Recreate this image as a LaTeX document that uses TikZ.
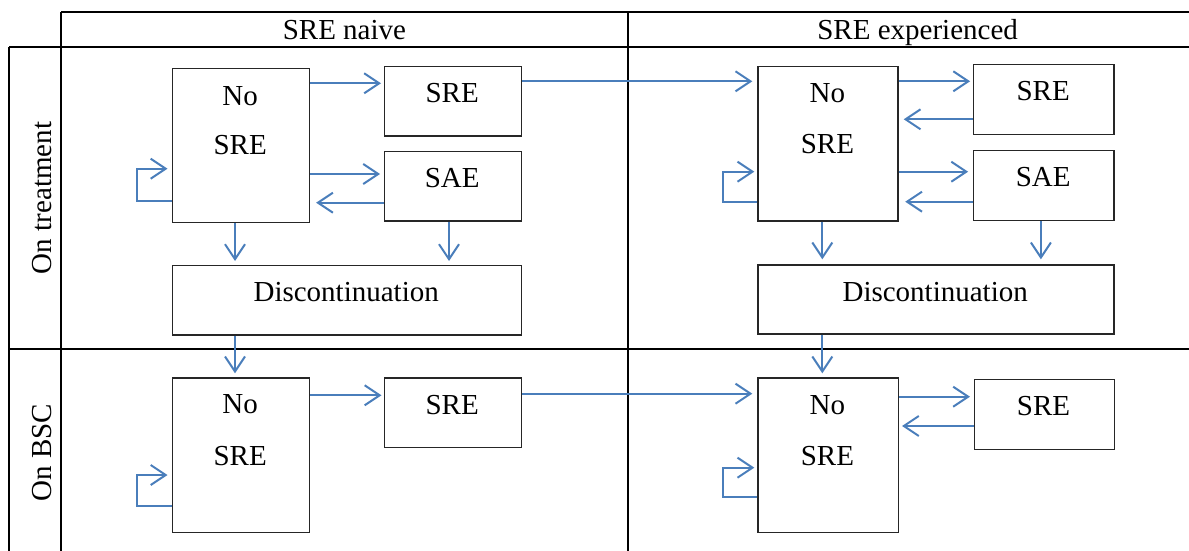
\documentclass[tikz,border=0pt]{standalone}
\usepackage{fontspec}
\setmainfont{Liberation Serif}
\usetikzlibrary{arrows.meta}
\definecolor{arrblue}{RGB}{74,126,187}
\begin{document}
\begin{tikzpicture}[x=1pt,y=-1pt,
 box/.style={draw=black!85, line width=1.3pt, inner sep=0pt, anchor=north west},
 txt/.style={anchor=base, inner sep=0pt, font=\fontsize{29}{34}\selectfont},
 gridline/.style={line width=2pt, black},
 arr/.style={draw=arrblue, line width=2pt, -{Straight Barb[length=15pt,width=20pt]}},
 ]
\useasboundingbox (0,0) rectangle (1189,551);
% table
\draw[gridline] (61,12.3) -- (1189,12.3);
\draw[gridline] (9,46.7) -- (1189,46.7);
\draw[gridline] (9,349) -- (1189,349);
\draw[gridline] (9,46.7) -- (9,551);
\draw[gridline] (61,12.3) -- (61,551);
\draw[gridline] (628,12.3) -- (628,551);
% headers
\node[txt] (h1) at (344.4,40) {SRE naive};
\node[txt] (h2) at (917.6,40) {SRE experienced};
\node[txt, rotate=90] (r1) at (51.7,198) {On treatment};
\node[txt, rotate=90] (r2) at (51.7,452.5) {On BSC};
% boxes naive top
\node[box, minimum width=137.3pt, minimum height=154pt] (nA) at (171.5,67.7) {};
\node[box, minimum width=137.4pt, minimum height=69.6pt] (sA) at (383.5,65.7) {};
\node[box, minimum width=137.4pt, minimum height=69.6pt] (eA) at (383.5,150.7) {};
\node[box, minimum width=349.4pt, minimum height=69.3pt] (dA) at (171.5,265) {};
% boxes experienced top
\node[box, minimum width=140.1pt, minimum height=154.6pt] (nB) at (757.3,65.7) {};
\node[box, minimum width=140.1pt, minimum height=70pt] (sB) at (973.1,63.7) {};
\node[box, minimum width=140.1pt, minimum height=70pt] (eB) at (973.1,149.7) {};
\node[box, minimum width=355.9pt, minimum height=69pt] (dB) at (757.3,264.3) {};
% boxes bottom
\node[box, minimum width=137.3pt, minimum height=154.4pt] (nC) at (171.5,377.3) {};
\node[box, minimum width=137.4pt, minimum height=69.4pt] (sC) at (383.5,377.3) {};
\node[box, minimum width=140.4pt, minimum height=154.4pt] (nD) at (757.3,377.3) {};
\node[box, minimum width=140.1pt, minimum height=69.7pt] (sD) at (973.5,379) {};
% texts
\node[txt] (tA1) at (240.2,105) {No};
\node[txt] (tA2) at (240.2,154.3) {SRE};
\node[txt] (tsA) at (452.2,102.3) {SRE};
\node[txt] (teA) at (452.2,187.7) {SAE};
\node[txt] (tdA) at (346.2,301.7) {Discontinuation};
\node[txt] (tB1) at (827.4,102.3) {No};
\node[txt] (tB2) at (827.4,153.3) {SRE};
\node[txt] (tsB) at (1043.2,100.7) {SRE};
\node[txt] (teB) at (1043.2,186.7) {SAE};
\node[txt] (tdB) at (935.2,301) {Discontinuation};
\node[txt] (tC1) at (240.2,413.3) {No};
\node[txt] (tC2) at (240.2,465.7) {SRE};
\node[txt] (tsC) at (452.2,414) {SRE};
\node[txt] (tD1) at (827.4,414) {No};
\node[txt] (tD2) at (827.4,465.7) {SRE};
\node[txt] (tsD) at (1043.5,415.7) {SRE};
% arrows naive top
\draw[arr, shorten >=2.5pt] (nA.east |- 0,83.3) -- (sA.west |- 0,83.3);
\draw[arr, shorten >=3.5pt] (nA.east |- 0,174) -- (eA.west |- 0,174);
\draw[arr, shorten >=6pt] (eA.west |- 0,202.7) -- (nA.east |- 0,202.7);
\draw[arr, shorten >=4pt] (nA.west |- 0,201.3) -- ++(-34.5,0) |- (nA.west |- 0,168.7);
\draw[arr, shorten >=4pt] (nA.south -| 235,0) -- (dA.north -| 235,0);
\draw[arr, shorten >=4pt] (eA.south -| 449,0) -- (dA.north -| 449,0);
\draw[arr, shorten >=5pt] (sA.east |- 0,81.3) -- (nB.west |- 0,81.3);
\draw[arr, shorten >=4pt] (dA.south -| 235,0) -- (nC.north -| 235,0);
% arrows experienced top
\draw[arr, shorten >=3pt] (nB.east |- 0,81.3) -- (sB.west |- 0,81.3);
\draw[arr, shorten >=5pt] (sB.west |- 0,119.3) -- (nB.east |- 0,119.3);
\draw[arr, shorten >=5pt] (nB.east |- 0,171.7) -- (eB.west |- 0,171.7);
\draw[arr, shorten >=6.5pt] (eB.west |- 0,201.7) -- (nB.east |- 0,201.7);
\draw[arr, shorten >=3pt] (nB.west |- 0,201.7) -- ++(-34.8,0) |- (nB.west |- 0,171.7);
\draw[arr, shorten >=5pt] (nB.south -| 822.3,0) -- (dB.north -| 822.3,0);
\draw[arr, shorten >=5pt] (eB.south -| 1040.9,0) -- (dB.north -| 1040.9,0);
\draw[arr, shorten >=4pt] (dB.south -| 822.3,0) -- (nD.north -| 822.3,0);
% arrows bottom
\draw[arr, shorten >=2pt] (nC.east |- 0,395.3) -- (sC.west |- 0,395.3);
\draw[arr, shorten >=4pt] (nC.west |- 0,505.7) -- ++(-34.5,0) |- (nC.west |- 0,475);
\draw[arr, shorten >=5pt] (sC.east |- 0,393.7) -- (nD.west |- 0,393.7);
\draw[arr, shorten >=3.5pt] (nD.east |- 0,396.7) -- (sD.west |- 0,396.7);
\draw[arr, shorten >=3pt] (sD.west |- 0,426) -- (nD.east |- 0,426);
\draw[arr, shorten >=3pt] (nD.west |- 0,497) -- ++(-34.8,0) |- (nD.west |- 0,467.7);
\end{tikzpicture}
\end{document}
